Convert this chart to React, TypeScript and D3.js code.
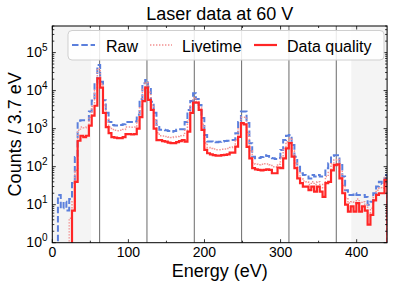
import React from "react";
import * as d3 from "d3";

// bin width of the histogram (eV)
const BIN = 3.7;

// counts per 3.7 eV bin, starting at 0 eV
const raw = [
  0, 0, 18, 8, 12, 7, 14, 37, 180, 1600, 1650, 1650, 1650, 2800, 5500, 16000, 47000, 17000, 5600, 2600,
  1500, 1250, 1200, 1200, 1250, 1300, 1500, 1500, 1500, 1550, 2300, 6000, 15600, 19000, 12700, 5100, 2600, 1250, 930, 930,
  900, 870, 830, 870, 930, 960, 960, 1500, 3100, 5300, 8500, 6000, 4200, 1900, 680, 460, 460, 450, 440, 450,
  460, 470, 480, 500, 500, 760, 1500, 2800, 2800, 1400, 415, 183, 166, 170, 180, 200, 190, 170, 166, 160,
  170, 275, 500, 645, 680, 370, 183, 100, 67, 60, 55, 49, 60, 55, 60, 55, 55, 91, 123, 190,
  200, 200, 110, 55, 24, 18, 18, 20, 18, 18, 18, 16, 10, 12, 20, 30, 40, 35, 60,
];

const livetime = [
  0, 0, 0, 0, 0, 0, 4.4, 12, 80, 900, 1100, 1050, 1100, 2000, 3800, 10000, 38000, 15000, 4200, 1800,
  1100, 950, 900, 880, 900, 950, 1100, 1100, 1080, 1100, 1600, 3800, 11000, 16000, 9000, 4200, 1700, 780, 650, 640,
  620, 600, 580, 600, 620, 650, 660, 900, 1700, 4000, 6500, 5200, 3600, 1300, 420, 320, 300, 290, 280, 280,
  285, 290, 300, 320, 330, 520, 1000, 2000, 2000, 800, 260, 125, 115, 112, 115, 120, 118, 112, 100, 98,
  115, 180, 300, 450, 560, 260, 125, 70, 48, 42, 40, 34, 40, 34, 40, 34, 28, 55, 70, 120,
  150, 155, 75, 32, 15, 11, 12, 11, 14, 11, 12, 10, 5, 8, 16, 24, 28, 27, 52,
];

const dataQuality = [
  0, 0, 0, 0, 0, 0, 0, 7, 40, 480, 650, 600, 650, 1200, 2200, 4000, 21000, 12000, 2600, 1100,
  760, 600, 580, 560, 560, 600, 720, 720, 700, 720, 1000, 2000, 5300, 12000, 5700, 3100, 1000, 500, 500, 470,
  455, 430, 415, 415, 440, 470, 500, 455, 830, 2600, 4800, 4800, 3100, 930, 275, 225, 210, 200, 195, 195,
  200, 205, 210, 235, 235, 335, 610, 1390, 1300, 330, 166, 91, 85, 82, 80, 82, 85, 82, 67, 67,
  95, 91, 166, 304, 415, 183, 91, 49, 37, 30, 30, 24, 30, 22, 30, 22, 16, 37, 40, 80,
  110, 115, 49, 20, 10, 6.6, 9, 6.6, 11, 6.6, 9, 7, 3, 5.4, 13, 18, 20, 20, 45,
];

// laser harmonic lines (eV)
const lineEnergies = [62.2, 124.4, 186.6, 248.8, 311.0, 373.2];
// excluded energy ranges (eV)
const shadedRanges = [
  [0, 51],
  [393, 440],
];
const xTicks = [0, 100, 200, 300, 400];
const yDecades = [0, 1, 2, 3, 4, 5];

const series = [
  { name: "Raw", values: raw, color: "#5b7fdc", width: 2, dash: "6.5,2.8" },
  { name: "Livetime", values: livetime, color: "#f29090", width: 1.5, dash: "1.4,1.6" },
  { name: "Data quality", values: dataQuality, color: "#ff2626", width: 2.2, dash: null },
];

const FONT = "'Liberation Sans', Arial, Helvetica, sans-serif";

const App = () => {
  const ref = React.useRef(null);

  React.useEffect(() => {
    const node = ref.current;
    while (node && node.firstChild) node.removeChild(node.firstChild);

    const width = 394;
    const height = 287;
    const left = 52.3;
    const right = 387.1;
    const top = 26;
    const bottom = 242.7;

    const x = d3.scaleLinear().domain([0, 440]).range([left, right]);
    const y = d3.scaleLog().domain([1, 5e5]).range([bottom, top]);

    const svg = d3
      .select(node)
      .append("svg")
      .attr("width", width)
      .attr("height", height)
      .style("display", "block")
      .style("position", "absolute")
      .style("left", "0px")
      .style("top", "0px")
      .style("background", "#fff")
      .style("font-family", FONT);

    svg
      .append("defs")
      .append("clipPath")
      .attr("id", "plot-clip")
      .append("rect")
      .attr("x", left)
      .attr("y", top)
      .attr("width", right - left)
      .attr("height", bottom - top);

    // shaded regions
    svg
      .append("g")
      .selectAll("rect")
      .data(shadedRanges)
      .join("rect")
      .attr("x", (d) => x(d[0]))
      .attr("width", (d) => x(d[1]) - x(d[0]))
      .attr("y", top)
      .attr("height", bottom - top)
      .attr("fill", "#f4f4f4");

    // vertical lines
    svg
      .append("g")
      .selectAll("line")
      .data(lineEnergies)
      .join("line")
      .attr("x1", (d) => x(d))
      .attr("x2", (d) => x(d))
      .attr("y1", top)
      .attr("y2", bottom)
      .attr("stroke", "#6a6a6a")
      .attr("stroke-width", 1);

    // step histograms
    const base = bottom + 30;
    const yv = (v) => (v > 0 ? y(v) : base);
    const line = d3
      .line()
      .x((d) => x(d[0]))
      .y((d) => yv(d[1]))
      .curve(d3.curveStepAfter);

    const plot = svg.append("g").attr("clip-path", "url(#plot-clip)");
    series.forEach((s) => {
      const pts = [[0, 0]];
      s.values.forEach((v, i) => pts.push([i * BIN, v]));
      pts.push([s.values.length * BIN, s.values[s.values.length - 1]]);
      pts.push([s.values.length * BIN, 0]);
      plot
        .append("path")
        .attr("d", line(pts))
        .attr("fill", "none")
        .attr("stroke", s.color)
        .attr("stroke-width", s.width)
        .attr("stroke-dasharray", s.dash)
        .attr("stroke-linejoin", "miter");
    });

    // frame
    svg
      .append("rect")
      .attr("x", left)
      .attr("y", top)
      .attr("width", right - left)
      .attr("height", bottom - top)
      .attr("fill", "none")
      .attr("stroke", "#000")
      .attr("stroke-width", 1);

    const ticks = svg.append("g").attr("stroke", "#000").attr("stroke-width", 0.8);

    // x ticks (inward, bottom and top)
    const xMinor = d3.range(0, 441, 50).filter((v) => v % 100 !== 0);
    xTicks.forEach((t) => {
      ticks.append("line").attr("x1", x(t)).attr("x2", x(t)).attr("y1", bottom).attr("y2", bottom - 3.5);
      ticks.append("line").attr("x1", x(t)).attr("x2", x(t)).attr("y1", top).attr("y2", top + 3.5);
    });
    xMinor.forEach((t) => {
      ticks.append("line").attr("x1", x(t)).attr("x2", x(t)).attr("y1", bottom).attr("y2", bottom - 2);
      ticks.append("line").attr("x1", x(t)).attr("x2", x(t)).attr("y1", top).attr("y2", top + 2);
    });

    // y ticks (inward, left and right)
    yDecades.forEach((k) => {
      const yy = y(Math.pow(10, k));
      ticks.append("line").attr("x1", left).attr("x2", left + 3.5).attr("y1", yy).attr("y2", yy);
      ticks.append("line").attr("x1", right).attr("x2", right - 3.5).attr("y1", yy).attr("y2", yy);
    });
    d3.range(0, 6).forEach((k) => {
      d3.range(2, 10).forEach((m) => {
        const v = m * Math.pow(10, k);
        if (v > 5e5) return;
        const yy = y(v);
        ticks.append("line").attr("x1", left).attr("x2", left + 2).attr("y1", yy).attr("y2", yy);
        ticks.append("line").attr("x1", right).attr("x2", right - 2).attr("y1", yy).attr("y2", yy);
      });
    });

    // tick labels
    svg
      .append("g")
      .selectAll("text")
      .data(xTicks)
      .join("text")
      .attr("x", (d) => x(d))
      .attr("y", 256.5)
      .attr("text-anchor", "middle")
      .attr("font-size", 14)
      .text((d) => d);

    const yl = svg
      .append("g")
      .selectAll("text")
      .data(yDecades)
      .join("text")
      .attr("x", 47.5)
      .attr("y", (d) => y(Math.pow(10, d)) + 4.5)
      .attr("text-anchor", "end")
      .attr("font-size", 14);
    yl.append("tspan").text("10");
    yl.append("tspan").attr("dy", -6).attr("font-size", 10).text((d) => d);

    // title and axis labels
    svg
      .append("text")
      .attr("x", (left + right) / 2)
      .attr("y", 20)
      .attr("text-anchor", "middle")
      .attr("font-size", 18)
      .text("Laser data at 60 V");
    svg
      .append("text")
      .attr("x", (left + right) / 2)
      .attr("y", 277)
      .attr("text-anchor", "middle")
      .attr("font-size", 18)
      .text("Energy (eV)");
    svg
      .append("text")
      .attr("transform", `translate(21,${(top + bottom) / 2}) rotate(-90)`)
      .attr("text-anchor", "middle")
      .attr("font-size", 18)
      .text("Counts / 3.7 eV");

    // legend
    const lg = svg.append("g");
    lg.append("rect")
      .attr("x", 68)
      .attr("y", 30.5)
      .attr("width", 316)
      .attr("height", 29.5)
      .attr("rx", 4)
      .attr("fill", "#fff")
      .attr("fill-opacity", 0.85)
      .attr("stroke", "#cfcfcf")
      .attr("stroke-width", 1);
    const handles = [
      { x0: 72, x1: 95, tx: 106 },
      { x0: 150, x1: 172, tx: 182 },
      { x0: 254, x1: 277, tx: 287 },
    ];
    series.forEach((s, i) => {
      const h = handles[i];
      lg.append("line")
        .attr("x1", h.x0)
        .attr("x2", h.x1)
        .attr("y1", 45)
        .attr("y2", 45)
        .attr("stroke", s.color)
        .attr("stroke-width", s.width)
        .attr("stroke-dasharray", s.dash);
      lg.append("text")
        .attr("x", h.tx)
        .attr("y", 51.5)
        .attr("font-size", 16)
        .text(s.name);
    });
  }, []);

  return <div ref={ref} />;
};

export default App;
